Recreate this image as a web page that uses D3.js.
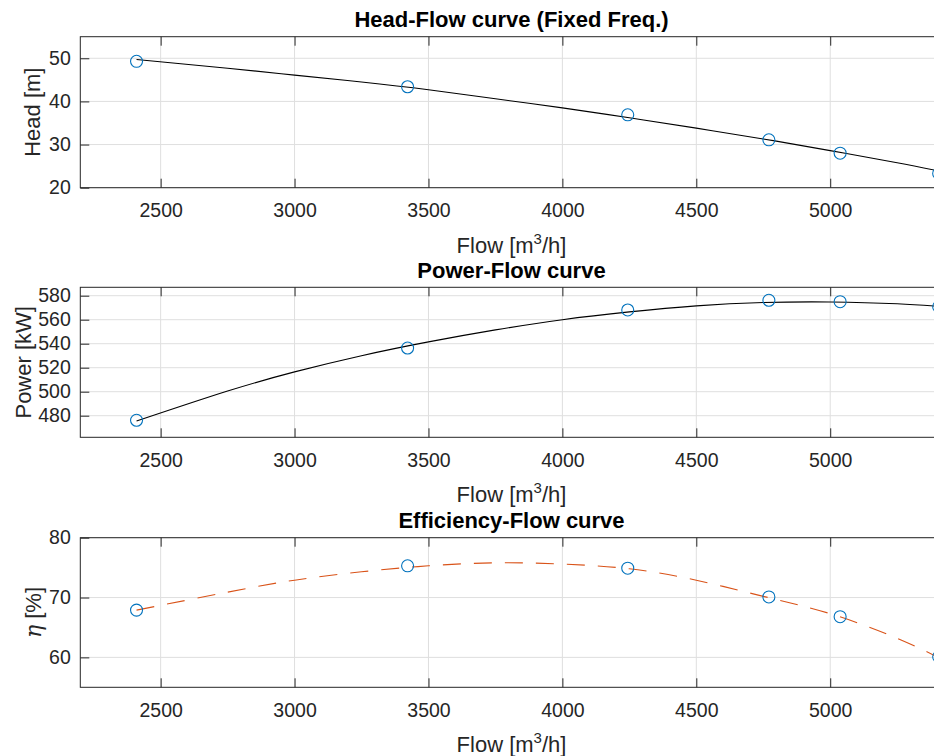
<!DOCTYPE html>
<html>
<head>
<meta charset="utf-8">
<script src="https://cdn.jsdelivr.net/npm/d3@7"></script>
<style>
  body { margin: 0; background: #fff; }
  svg { display: block; font-family: "Liberation Sans", Helvetica, Arial, sans-serif; }
</style>
</head>
<body>
<div class="chart"></div>
<script>
// measured operating points (flow in m3/h)
const flow = [2410, 3422, 4244, 4771, 5037, 5405];
const head = [49.3, 43.4, 36.9, 31.1, 28.0, 23.3];
const power = [476.2, 536.4, 568.1, 576.2, 575.0, 570.8];
const eff = [67.9, 75.3, 74.9, 70.1, 66.8, 60.1];

// fitted curves
const fitFlow = [2410, 2750, 3000, 3250, 3500, 3750, 4000, 4250, 4500, 4750, 5000, 5250, 5420];
const fitHead = [49.7, 47.7, 46.1, 44.5, 42.7, 40.6, 38.5, 36.2, 33.8, 31.3, 28.6, 25.8, 23.7];
const fitPower = [475.5, 500.5, 516.5, 530, 541.5, 551.5, 560, 566.5, 571.5, 574.3, 574.8, 573.3, 570.8];
const fitEff = [67.9, 70.9, 72.9, 74.3, 75.3, 75.8, 75.6, 74.8, 72.9, 70.2, 67.3, 63.2, 59.6];

const xTicks = [2500, 3000, 3500, 4000, 4500, 5000];

const panels = [
    {title: "Head-Flow curve (Fixed Freq.)", ylab: "Head [m]", top: 36.7, bottom: 187.7,
     ydom: [20, 55], yticks: [20, 30, 40, 50], pts: head, fit: fitHead,
     color: "#000", dash: null, labX: 39.5},
    {title: "Power-Flow curve", ylab: "Power [kW]", top: 287.3, bottom: 437.3,
     ydom: [462, 587], yticks: [480, 500, 520, 540, 560, 580], pts: power, fit: fitPower,
     color: "#000", dash: null, labX: 30.5},
    {title: "Efficiency-Flow curve", ylab: "eta", top: 537.7, bottom: 687.3,
     ydom: [55, 80], yticks: [60, 70, 80], pts: eff, fit: fitEff,
     color: "#D95319", dash: "18,13", labX: 40.5}
];

const width = 934, height = 756;
const left = 80.3, right = 942.7;

const svg = d3.select(".chart")
    .append("svg")
    .attr("width", width)
    .attr("height", height);

const x = d3.scaleLinear()
    .domain([2200, 5420])
    .range([left, right]);

panels.forEach((p, i) => {
    const y = d3.scaleLinear()
        .domain(p.ydom)
        .range([p.bottom, p.top]);

    const g = svg.append("g");

    g.append("clipPath")
        .attr("id", "clip" + i)
        .append("rect")
        .attr("x", left).attr("y", p.top)
        .attr("width", right - left).attr("height", p.bottom - p.top);

    // grid
    g.append("g").selectAll("line")
        .data(xTicks).enter().append("line")
        .attr("x1", d => x(d)).attr("x2", d => x(d))
        .attr("y1", p.top).attr("y2", p.bottom)
        .attr("stroke", "#dfdfdf").attr("stroke-width", 1);
    g.append("g").selectAll("line")
        .data(p.yticks).enter().append("line")
        .attr("x1", left).attr("x2", right)
        .attr("y1", d => y(d)).attr("y2", d => y(d))
        .attr("stroke", "#dfdfdf").attr("stroke-width", 1);

    // axes
    const xb = g.append("g")
        .attr("transform", "translate(0," + p.bottom + ")")
        .call(d3.axisBottom(x).tickValues(xTicks).tickFormat(d3.format("d"))
            .tickSize(-9).tickPadding(15.5));
    const xt = g.append("g")
        .attr("transform", "translate(0," + p.top + ")")
        .call(d3.axisTop(x).tickValues(xTicks).tickSize(-9).tickFormat(""));
    const yl = g.append("g")
        .attr("transform", "translate(" + left + ",0)")
        .call(d3.axisLeft(y).tickValues(p.yticks).tickFormat(d3.format("d"))
            .tickSize(-9).tickPadding(9.5));
    [xb, xt, yl].forEach(a => {
        a.select(".domain").remove();
        a.selectAll(".tick line").attr("stroke", "#262626");
        a.selectAll(".tick text")
            .attr("fill", "#262626")
            .style("font-size", "19.5px");
    });

    g.append("rect")
        .attr("x", left).attr("y", p.top)
        .attr("width", right - left).attr("height", p.bottom - p.top)
        .attr("fill", "none")
        .attr("stroke", "#262626")
        .attr("stroke-width", 1);

    // fitted curve
    const line = d3.line()
        .x((d, j) => x(fitFlow[j]))
        .y(d => y(d))
        .curve(d3.curveNatural);
    g.append("path")
        .datum(p.fit)
        .attr("clip-path", "url(#clip" + i + ")")
        .attr("fill", "none")
        .attr("stroke", p.color)
        .attr("stroke-width", 1.1)
        .attr("stroke-dasharray", p.dash)
        .attr("d", line);

    // measured points
    g.append("g").selectAll("circle")
        .data(p.pts).enter().append("circle")
        .attr("cx", (d, j) => x(flow[j]))
        .attr("cy", d => y(d))
        .attr("r", 6)
        .attr("fill", "none")
        .attr("stroke", "#0072BD")
        .attr("stroke-width", 1.1);

    // title
    g.append("text")
        .attr("x", (left + right) / 2)
        .attr("y", p.top - 9.5)
        .attr("text-anchor", "middle")
        .style("font-size", "22px")
        .style("font-weight", "bold")
        .attr("fill", "#000")
        .text(p.title);

    // x label
    const xl = g.append("text")
        .attr("x", (left + right) / 2)
        .attr("y", p.bottom + 65)
        .attr("text-anchor", "middle")
        .style("font-size", "22px")
        .attr("fill", "#262626");
    xl.append("tspan").text("Flow [m");
    xl.append("tspan").attr("dy", -9).style("font-size", "15px").text("3");
    xl.append("tspan").attr("dy", 9).text("/h]");

    // y label
    const yt = g.append("text")
        .attr("transform", "translate(" + p.labX + "," + (p.top + p.bottom) / 2 + ") rotate(-90)")
        .attr("text-anchor", "middle")
        .style("font-size", "22px")
        .attr("fill", "#262626");
    if (p.ylab === "eta") {
        yt.append("tspan")
            .style("font-family", "'DejaVu Serif', 'Liberation Serif', serif")
            .style("font-style", "italic")
            .text("\u03b7");
        yt.append("tspan").text(" [%]");
    } else {
        yt.text(p.ylab);
    }
});
</script>
</body>
</html>
